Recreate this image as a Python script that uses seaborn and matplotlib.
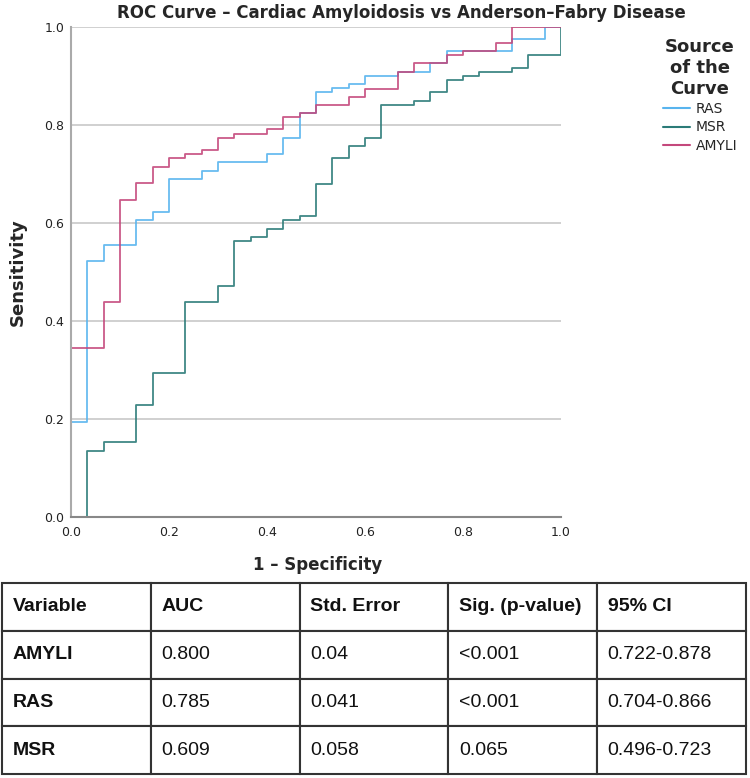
import numpy as np
import pandas as pd
import matplotlib
matplotlib.use("Agg")
import matplotlib.pyplot as plt
import seaborn as sns
from matplotlib.lines import Line2D

# ROC step vertices (1 - specificity, sensitivity)
ras_fpr = [0.0, 0.0, 0.033, 0.067, 0.133, 0.167, 0.2, 0.267, 0.3, 0.4, 0.433, 0.467,
           0.5, 0.533, 0.567, 0.6, 0.667, 0.733, 0.767, 0.9, 0.967, 1.0]
ras_tpr = [0.0, 0.194, 0.522, 0.555, 0.605, 0.621, 0.689, 0.706, 0.723, 0.740, 0.773, 0.823,
           0.866, 0.874, 0.883, 0.899, 0.908, 0.925, 0.950, 0.975, 1.0, 1.0]

msr_fpr = [0.0, 0.033, 0.067, 0.133, 0.167, 0.233, 0.3, 0.333, 0.367, 0.4, 0.433, 0.467,
           0.5, 0.533, 0.567, 0.6, 0.633, 0.7, 0.733, 0.767, 0.8, 0.833, 0.9, 0.933, 1.0]
msr_tpr = [0.0, 0.135, 0.152, 0.227, 0.294, 0.438, 0.471, 0.563, 0.571, 0.588, 0.605, 0.613,
           0.680, 0.732, 0.757, 0.773, 0.840, 0.849, 0.867, 0.891, 0.900, 0.908, 0.916, 0.942, 1.0]

amyli_fpr = [0.0, 0.0, 0.067, 0.1, 0.133, 0.167, 0.2, 0.233, 0.267, 0.3, 0.333, 0.4,
             0.433, 0.467, 0.5, 0.567, 0.6, 0.667, 0.7, 0.767, 0.8, 0.867, 0.9, 1.0]
amyli_tpr = [0.0, 0.345, 0.438, 0.647, 0.681, 0.714, 0.732, 0.740, 0.748, 0.773, 0.782, 0.791,
             0.815, 0.823, 0.840, 0.857, 0.873, 0.908, 0.925, 0.942, 0.950, 0.966, 1.0, 1.0]

curve_names = ["RAS", "MSR", "AMYLI"]
curve_colors = ["#58b4ee", "#2b7b78", "#c4487c"]

# summary table
table_header = ["Variable", "AUC", "Std. Error", "Sig. (p-value)", "95% CI"]
table_vars = ["AMYLI", "RAS", "MSR"]
table_auc = ["0.800", "0.785", "0.609"]
table_se = ["0.04", "0.041", "0.058"]
table_sig = ["<0.001", "<0.001", "0.065"]
table_ci = ["0.722-0.878", "0.704-0.866", "0.496-0.723"]

roc = pd.concat([
    pd.DataFrame({"fpr": ras_fpr, "tpr": ras_tpr, "curve": "RAS"}),
    pd.DataFrame({"fpr": msr_fpr, "tpr": msr_tpr, "curve": "MSR"}),
    pd.DataFrame({"fpr": amyli_fpr, "tpr": amyli_tpr, "curve": "AMYLI"}),
])

sns.set_theme(style="white")
plt.rcParams["font.family"] = ["DejaVu Sans"]

fig = plt.figure(figsize=(7.5, 7.78), dpi=100)
ax = fig.add_axes([71 / 750, 1 - 516.7 / 778, 490 / 750, 490 / 778])

sns.lineplot(data=roc, x="fpr", y="tpr", hue="curve", hue_order=curve_names,
             palette=curve_colors, sort=False, estimator=None, drawstyle="steps-post",
             linewidth=1.3, alpha=0.9, legend=False, ax=ax)

ticks = np.arange(0, 1.01, 0.2)
ax.set_xlim(0, 1)
ax.set_ylim(0, 1)
ax.set_xticks(ticks)
ax.set_yticks(ticks)
ax.set_xticklabels([f"{v:.1f}" for v in ticks], fontsize=9, color="#222222")
ax.set_yticklabels([f"{v:.1f}" for v in ticks], fontsize=9, color="#222222")
ax.tick_params(axis="x", length=0, pad=7)
ax.tick_params(axis="y", length=0, pad=5)
ax.yaxis.grid(True, color="#c8c8c8", linewidth=1.2)
ax.xaxis.grid(False)
ax.set_axisbelow(True)
for side in ["top", "right"]:
    ax.spines[side].set_visible(False)
ax.spines["left"].set_color("#aaaaaa")
ax.spines["left"].set_linewidth(1.5)
ax.spines["bottom"].set_color("#888888")
ax.spines["bottom"].set_linewidth(1.5)

ax.set_xlabel("")
ax.set_ylabel("")
fig.text(318 / 750, 1 - 565 / 778, "1 \u2013 Specificity", ha="center", va="center",
         fontsize=12, fontweight="bold")
fig.text(18 / 750, 1 - 272 / 778, "Sensitivity", ha="center", va="center",
         rotation=90, fontsize=13, fontweight="bold")
fig.text(401 / 750, 1 - 13 / 778,
         "ROC Curve \u2013 Cardiac Amyloidosis vs Anderson\u2013Fabry Disease",
         ha="center", va="center", fontsize=12, fontweight="bold")

handles = [Line2D([0], [0], color=c, linewidth=1.5) for c in curve_colors]
leg = fig.legend(handles, curve_names, title="Source\nof the\nCurve",
                 loc="upper center", bbox_to_anchor=(700 / 750, 1 - 26 / 778),
                 frameon=False, fontsize=10, handlelength=2.0, handletextpad=0.4,
                 labelspacing=0.3)
leg.get_title().set_fontweight("bold")
leg.get_title().set_fontsize(13)
leg.get_title().set_multialignment("center")

# table
tax = fig.add_axes([2 / 750, 1 - 774 / 778, 744 / 750, 191 / 778])
tax.axis("off")
cells = [[v, a, s, p, c] for v, a, s, p, c in zip(table_vars, table_auc, table_se, table_sig, table_ci)]
tbl = tax.table(cellText=cells, colLabels=table_header, cellLoc="left", colLoc="left",
                bbox=[0, 0, 1, 1])
tbl.auto_set_font_size(False)
for (r, c), cell in tbl.get_celld().items():
    cell.PAD = 0.07
    cell.set_edgecolor("#333333")
    cell.set_linewidth(1.5)
    txt = cell.get_text()
    txt.set_fontfamily("Liberation Sans")
    txt.set_fontsize(14)
    txt.set_color("#111111")
    if r == 0 or c == 0:
        txt.set_fontweight("bold")

fig.savefig("out.png", dpi=100)
